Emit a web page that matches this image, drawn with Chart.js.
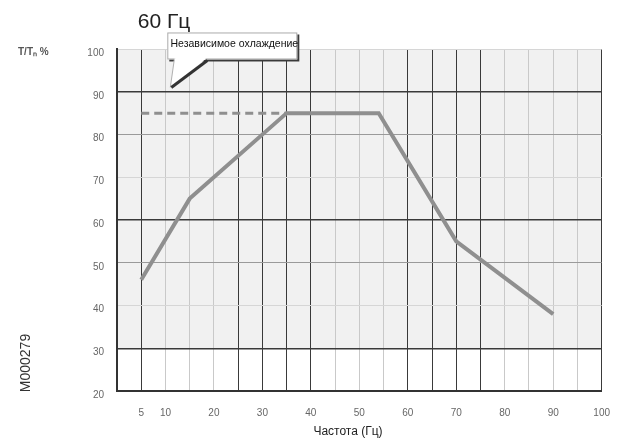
<!DOCTYPE html>
<html>
<head>
<meta charset="utf-8">
<script src="https://cdn.jsdelivr.net/npm/chart.js@4"></script>
<style>
body{margin:0;background:#fff}
canvas{display:block}
</style>
</head>
<body>
<canvas id="grafico" width="626" height="443"></canvas>
<script>

// кривая момента (сплошная)
let freq = [5, 15, 35, 54, 70, 90]
let torque = [46, 65, 85, 85, 55, 38]

// независимое охлаждение (пунктир)
let freqDash = [5, 35]
let torqueDash = [85, 85]

let xTicks = [5, 10, 20, 30, 40, 50, 60, 70, 80, 90, 100]
let xDark = [5, 25, 30, 35, 40, 60, 65, 70, 75, 100]
let yDark = [30, 60, 90]
let yMid = [50, 80]

let titulo = "60 Гц"
let nota = "Независимое охлаждение"
let notaPonto = [11, 91]
let eixoX = "Частота (Гц)"
let eixoY = "T/Tₙ %"
let codigo = "M000279"

let fonte = "'Liberation Sans', Arial, sans-serif"

let fundo = {
id:"fundo",
beforeDraw(chart){
let c = chart.ctx, a = chart.chartArea, y = chart.scales.y
c.save()
c.fillStyle = "#fff"
c.fillRect(0,0,chart.width,chart.height)
c.fillStyle = "#f1f1f1"
c.fillRect(a.left, y.getPixelForValue(100), a.right-a.left, y.getPixelForValue(30)-y.getPixelForValue(100))
c.restore()
}
}

let textos = {
id:"textos",
afterDraw(chart){
let c = chart.ctx, x = chart.scales.x, y = chart.scales.y
c.save()

// titulo
c.fillStyle = "#222"
c.font = "21px " + fonte
c.textBaseline = "middle"
c.textAlign = "center"
c.fillText(titulo, 164, 22)

// nota com balao
let tx = x.getPixelForValue(notaPonto[0])
let ty = y.getPixelForValue(notaPonto[1])
let bx = tx - 3, by = ty - 55, bw = 130, bh = 27
let ax = tx + 4, bx2 = tx + 36

// sombra
c.fillStyle = "#3a3a3a"
c.fillRect(bx+2, by+2, bw, bh)
// caixa
c.fillStyle = "#fff"
c.fillRect(bx, by, bw, bh)
c.lineWidth = 1
c.strokeStyle = "#aaa"
c.strokeRect(bx+0.5, by+0.5, bw-1, bh-1)
// cauda
c.beginPath()
c.moveTo(ax, by+bh-1)
c.lineTo(tx, ty)
c.lineTo(bx2, by+bh-1)
c.closePath()
c.fillStyle = "#fff"
c.fill()
c.strokeStyle = "#b0b0b0"
c.beginPath()
c.moveTo(ax, by+bh)
c.lineTo(tx, ty)
c.stroke()
c.lineWidth = 3
c.strokeStyle = "#333"
c.beginPath()
c.moveTo(bx2+1, by+bh+1)
c.lineTo(tx+1, ty)
c.stroke()
c.fillStyle = "#fff"
c.fillRect(ax+1, by+bh-3, bx2-ax-2, 3)

c.fillStyle = "#111"
c.font = "10.5px " + fonte
c.textAlign = "center"
c.fillText(nota, bx + bw/2 + 2, by + 12)

// titulos dos eixos
c.fillStyle = "#222"
c.font = "12px " + fonte
c.fillText(eixoX, 348, 432)
c.fillStyle = "#555"
c.font = "bold 10px " + fonte
c.textAlign = "left"
c.fillText(eixoY, 18, 52)

// codigo vertical
c.translate(26, 363)
c.rotate(-Math.PI/2)
c.fillStyle = "#333"
c.font = "14px " + fonte
c.textAlign = "center"
c.fillText(codigo, 0, 0)

c.restore()
}
}

let ctx = document.getElementById("grafico").getContext("2d")

let grafico = new Chart(ctx, {
type:"line",
data:{
datasets:[{
data: freq.map((f,i)=>({x:f, y:torque[i]})),
borderColor:"#8f8f8f",
borderWidth:4,
pointRadius:0,
tension:0
},{
data: freqDash.map((f,i)=>({x:f, y:torqueDash[i]})),
borderColor:"#8f8f8f",
borderWidth:3,
borderDash:[8,5],
pointRadius:0
}]
},
options:{
responsive:false,
animation:false,
layout:{padding:{top:49, right:22, left:0, bottom:0}},
plugins:{legend:{display:false}, tooltip:{enabled:false}},
scales:{
x:{
type:"linear",
min:0, max:100,
afterFit(s){ s.height = 52 },
afterBuildTicks(s){ s.ticks = [0,5,10,15,20,25,30,35,40,45,50,55,60,65,70,75,80,85,90,95,100].map(v=>({value:v})) },
ticks:{
padding:16,
color:"#666",
font:{size:10, family:fonte},
maxRotation:0,
autoSkip:false,
callback:v => xTicks.includes(v) ? String(v) : ""
},
grid:{
drawTicks:false,
color:c => xDark.includes(c.tick.value) ? "#3a3a3a" : "#c9c9c9",
lineWidth:1
},
border:{color:"#333", width:2}
},
y:{
min:20, max:100,
afterFit(s){ s.width = 117 },
ticks:{
stepSize:10,
padding:13,
labelOffset:4,
color:"#666",
font:{size:10, family:fonte}
},
grid:{
drawTicks:false,
color:c => yDark.includes(c.tick.value) ? "#3a3a3a" : (yMid.includes(c.tick.value) ? "#9a9a9a" : "#d6d6d6"),
lineWidth:c => yDark.includes(c.tick.value) ? 1.5 : 1
},
border:{color:"#333", width:2}
}
}
},
plugins:[fundo, textos]
})

</script>
</body>
</html>
